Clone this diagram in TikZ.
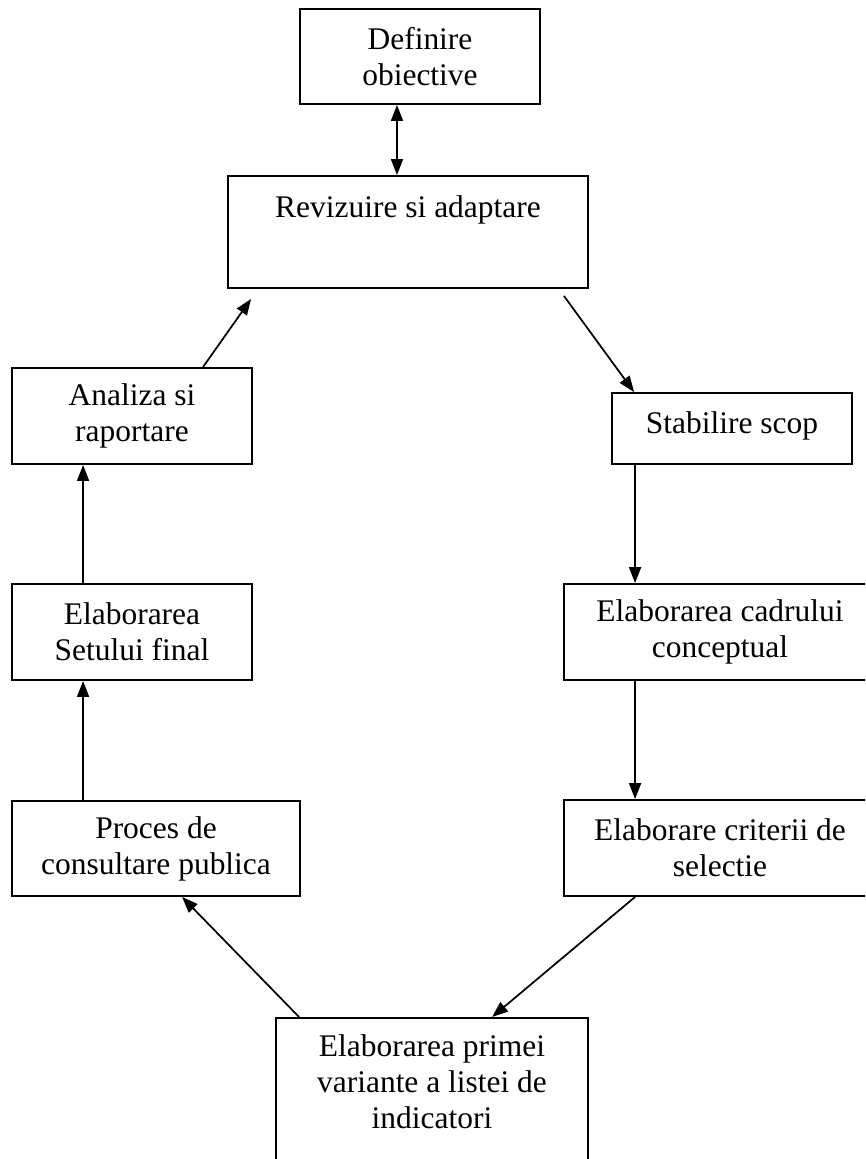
\documentclass[tikz,border=0pt]{standalone}
\usepackage{fontspec}
\setmainfont{Liberation Serif}
\usetikzlibrary{arrows.meta}
\tikzset{
  box/.style={draw, line width=1.4pt, rectangle, align=center,
    font=\fontsize{23.6pt}{27pt}\selectfont, inner sep=0pt},
  conn/.style={line width=1.3pt, -{Triangle[length=12pt,width=9pt]}},
  dconn/.style={line width=1.3pt, {Triangle[length=12pt,width=9pt]}-{Triangle[length=12pt,width=9pt]}},
}
\begin{document}
\begin{tikzpicture}[x=0.75pt,y=-0.75pt]
\useasboundingbox (0,0) rectangle (865,1159);
\clip (0,0) rectangle (865,1159);
\node[box, minimum width=180pt, minimum height=71.25pt] (def) at (420,56.5) {Definire\\obiective};
\node[box, minimum width=270pt, minimum height=84pt] (rev) at (408,232) {Revizuire si adaptare\\[6.75pt]\phantom{Xy}};
\node[box, minimum width=180pt, minimum height=72pt] (ana) at (132,416) {Analiza si\\raportare};
\node[box, minimum width=180pt, minimum height=72pt] (set) at (132,632) {Elaborarea\\Setului final};
\node[box, minimum width=216pt, minimum height=71.25pt] (pro) at (156,848.5) {Proces de\\consultare publica};
\node[box, minimum width=180pt, minimum height=53.25pt, text height=16.9pt, text depth=10.1pt] (stab) at (732,428.5) {Stabilire scop};
\node[box, minimum width=234pt, minimum height=72pt] (cad) at (720,632) {Elaborarea cadrului\\conceptual};
\node[box, minimum width=234pt, minimum height=72pt] (cri) at (720,848) {Elaborare criterii de\\selectie};
\node[box, minimum width=234pt, anchor=north, inner ysep=12.4pt] (bot) at (432,1017) {Elaborarea primei\\variante a listei de\\indicatori\\\phantom{X}};

\draw[dconn] ([xshift=-17.25pt]def.south) -- ([xshift=-8.25pt]rev.north);
\draw[conn] ([xshift=53.25pt]ana.north) -- ([xshift=18pt,yshift=-7.5pt]rev.south west);
\draw[conn] ([xshift=-18.75pt,yshift=-5.25pt]rev.south east) -- ([xshift=17.25pt]stab.north west);
\draw[conn] ([xshift=18pt]stab.south west) -- ([xshift=54pt]cad.north west);
\draw[conn] ([xshift=54pt]cad.south west) -- ([xshift=54pt]cri.north west);
\draw[conn] ([xshift=54pt]cri.south west) -- ([xshift=162.75pt]bot.north west);
\draw[conn] ([xshift=18pt]bot.north west) -- ([xshift=128.25pt]pro.south west);
\draw[conn] ([xshift=54pt]pro.north west) -- ([xshift=54pt]set.south west);
\draw[conn] ([xshift=54pt]set.north west) -- ([xshift=54pt]ana.south west);
\end{tikzpicture}
\end{document}
